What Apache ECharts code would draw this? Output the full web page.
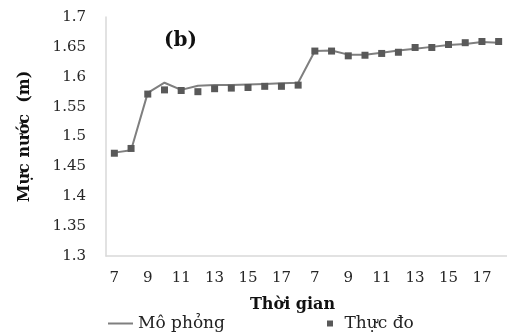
<!DOCTYPE html>
<html>
<head>
<meta charset="utf-8">
<script src="https://cdn.jsdelivr.net/npm/echarts@6/dist/echarts.min.js"></script>
<style>
  html, body { margin: 0; padding: 0; background: #fff; }
  #chart { width: 507px; height: 333px; }
</style>
</head>
<body>
<div id="chart"></div>
<script>
// gio quan trac, 2 ngay
var hours = ['7','8','9','10','11','12','13','14','15','16','17','18',
             '7','8','9','10','11','12','13','14','15','16','17','18'];
// muc nuoc mo phong (m)
var moPhong = [1.473, 1.477, 1.573, 1.590, 1.578, 1.585, 1.586, 1.586, 1.587, 1.588, 1.589, 1.590,
               1.643, 1.644, 1.637, 1.637, 1.640, 1.644, 1.647, 1.650, 1.653, 1.655, 1.658, 1.657];
// muc nuoc thuc do (m)
var thucDo = [1.472, 1.480, 1.571, 1.578, 1.577, 1.575, 1.580, 1.581, 1.582, 1.584, 1.584, 1.586,
              1.643, 1.643, 1.635, 1.636, 1.639, 1.641, 1.649, 1.649, 1.654, 1.657, 1.659, 1.659];

var font = 'DejaVu Serif';
var myChart = echarts.init(document.getElementById('chart'));
var option = {
    animation: false,
    title: {
        text: '(b)',
        left: 164,
        top: 31,
        padding: 0,
        textStyle: { fontFamily: font, fontWeight: 'bold', fontSize: 20, color: '#111' }
    },
    grid: {
        left: 106,
        right: -6,
        top: 17,
        bottom: 77
    },
    legend: [{
        data: ['Mô phỏng'],
        left: 108,
        top: 315,
        padding: 0,
        icon: 'rect',
        itemWidth: 25,
        itemHeight: 2,
        selectedMode: false,
        textStyle: { fontFamily: font, fontSize: 17, color: '#222' }
    }, {
        data: ['Thực đo'],
        left: 327,
        top: 315,
        padding: 0,
        icon: 'path://M0,0h1v1h-1z',
        itemWidth: 19,
        itemHeight: 6,
        selectedMode: false,
        textStyle: { fontFamily: font, fontSize: 17, color: '#222' }
    }],
    xAxis: {
        type: 'category',
        data: hours,
        name: 'Thời gian',
        nameLocation: 'middle',
        nameGap: 41,
        nameTextStyle: {
            fontFamily: font, fontWeight: 'bold', fontSize: 16, color: '#111',
            padding: [0, 28, 0, 0]
        },
        axisLine: { lineStyle: { color: '#d9d9d9', width: 1.5 } },
        axisTick: { show: false },
        axisLabel: {
            interval: 1,
            margin: 15,
            fontFamily: font,
            fontSize: 15,
            color: '#262626'
        },
        splitLine: { show: false }
    },
    yAxis: {
        type: 'value',
        min: 1.3,
        max: 1.7,
        interval: 0.05,
        name: 'Mực nước  (m)',
        nameLocation: 'middle',
        nameGap: 73,
        nameTextStyle: { fontFamily: font, fontWeight: 'bold', fontSize: 16, color: '#111' },
        axisLine: { show: true, lineStyle: { color: '#d9d9d9', width: 1.5 } },
        axisTick: { show: false },
        axisLabel: {
            margin: 20,
            fontFamily: font,
            fontSize: 15,
            color: '#262626'
        },
        splitLine: { show: false }
    },
    series: [{
        name: 'Mô phỏng',
        type: 'line',
        data: moPhong,
        showSymbol: false,
        symbol: 'none',
        lineStyle: { color: '#7f7f7f', width: 2 },
        itemStyle: { color: '#7f7f7f' },
        z: 2
    }, {
        name: 'Thực đo',
        type: 'line',
        data: thucDo,
        symbol: 'rect',
        symbolSize: 7,
        showAllSymbol: true,
        lineStyle: { width: 0, opacity: 0 },
        itemStyle: { color: '#595959' },
        z: 3
    }]
};
myChart.setOption(option);
</script>
</body>
</html>
